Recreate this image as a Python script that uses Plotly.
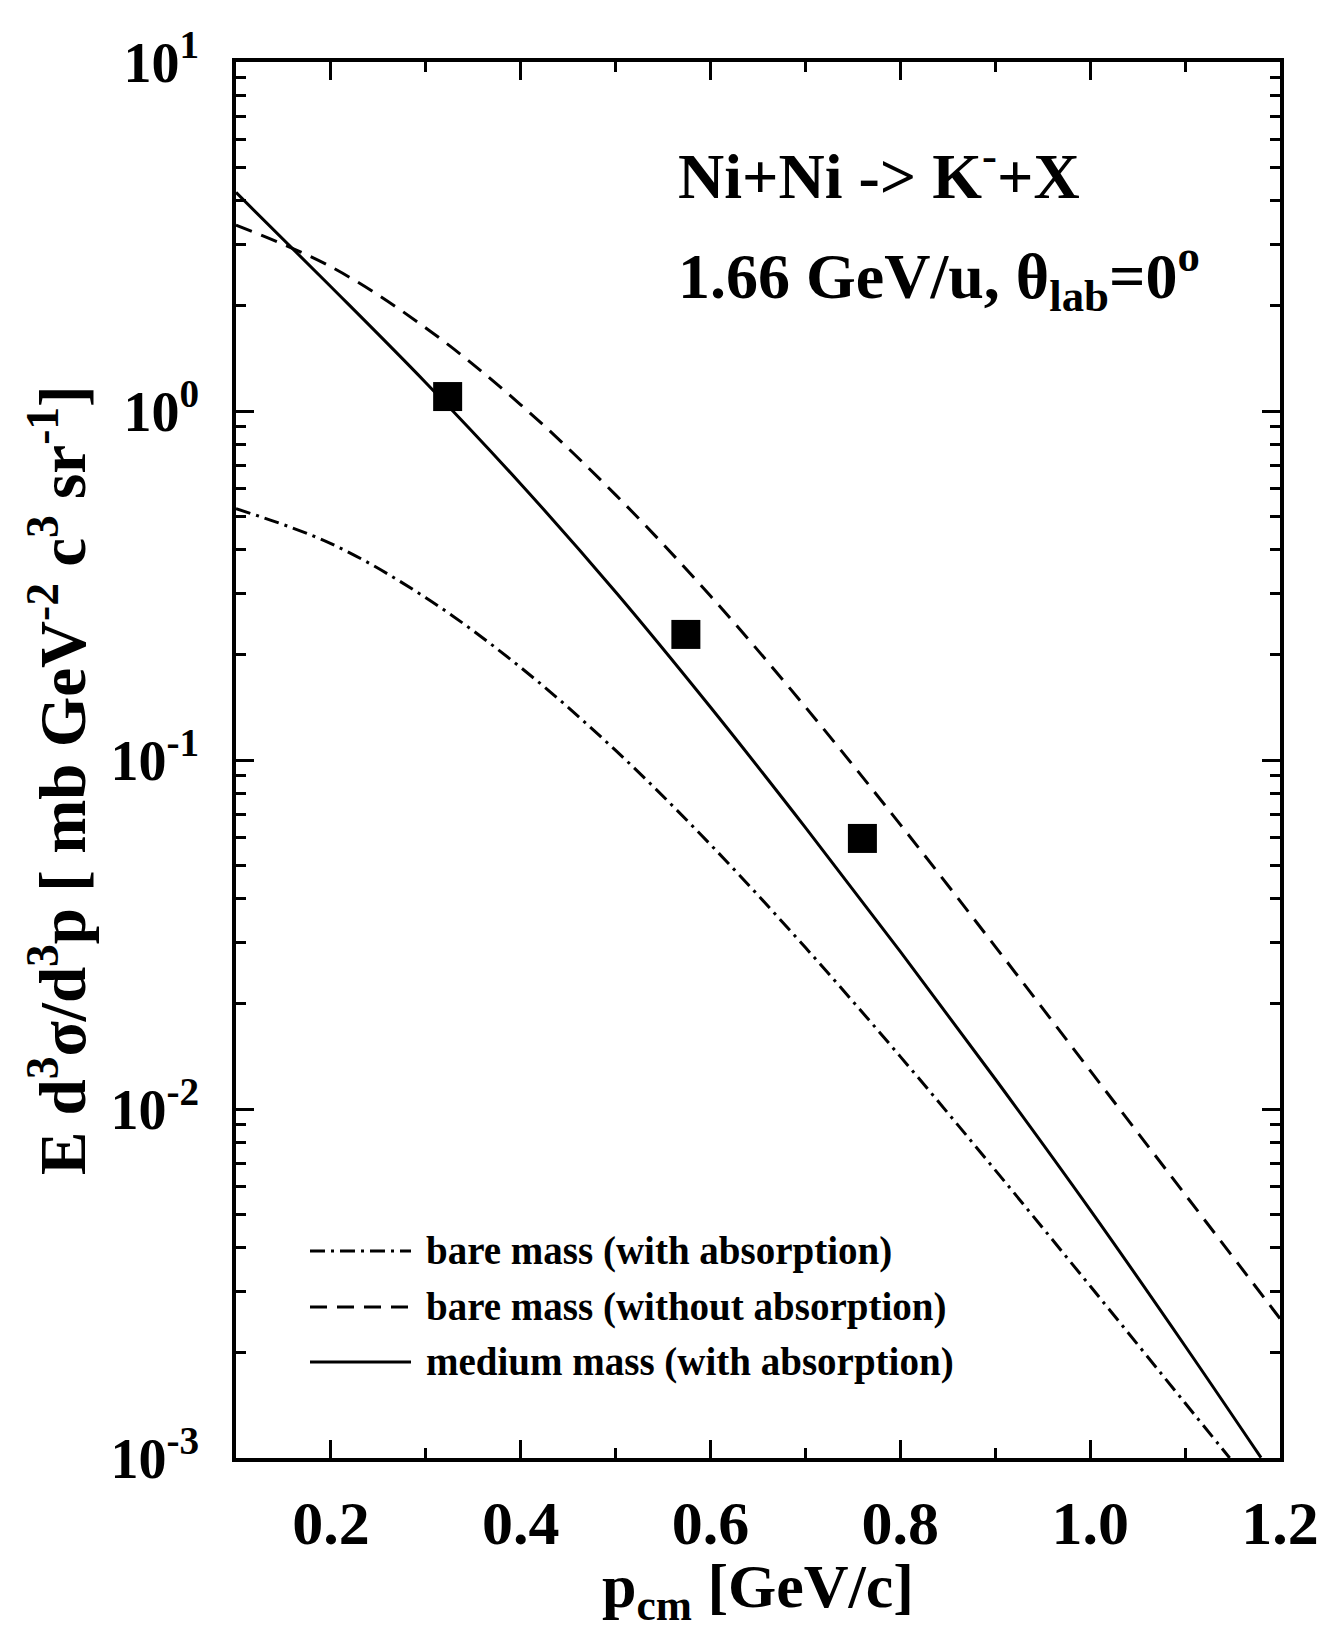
import plotly.graph_objects as go

# ---- data ----
solid_x = [0.10, 0.20, 0.30, 0.40, 0.50, 0.60, 0.70, 0.80, 0.90, 1.00, 1.10, 1.18]
solid_y = [4.23, 2.27, 1.205, 0.618, 0.303, 0.1416, 0.0640, 0.02825, 0.01219, 0.00514, 0.002094, 0.001002]

dash_x = [0.10, 0.20, 0.30, 0.40, 0.50, 0.60, 0.70, 0.80, 0.90, 1.00, 1.10, 1.20]
dash_y = [3.41, 2.59, 1.73, 1.042, 0.575, 0.295, 0.1419, 0.0653, 0.0292, 0.01288, 0.00569, 0.00251]

dd_x = [0.10, 0.20, 0.30, 0.40, 0.50, 0.60, 0.70, 0.80, 0.90, 1.00, 1.10, 1.147]
dd_y = [0.525, 0.417, 0.2917, 0.1841, 0.1065, 0.0572, 0.0290, 0.01413, 0.00668, 0.00311, 0.001437, 0.001]

data_x = [0.323, 0.574, 0.760]
data_y = [1.10, 0.229, 0.0596]

x_tickvals = [0.2, 0.4, 0.6, 0.8, 1.0, 1.2]
y_tickvals = [0.001, 0.01, 0.1, 1, 10]
y_ticktext = ["10<sup>-3</sup>", "10<sup>-2</sup>", "10<sup>-1</sup>", "10<sup>0</sup>", "10<sup>1</sup>"]

legend_labels = ["bare mass (with absorption)", "bare mass (without absorption)", "medium mass (with absorption)"]
legend_dashes = ["15px,6px,3px,6px", "17px,10px", "solid"]

FONT = "Liberation Serif"

fig = go.Figure()
fig.add_trace(go.Scatter(x=dd_x, y=dd_y, mode="lines", line=dict(color="black", width=3, dash=legend_dashes[0], shape="spline"), showlegend=False))
fig.add_trace(go.Scatter(x=dash_x, y=dash_y, mode="lines", line=dict(color="black", width=3, dash=legend_dashes[1], shape="spline"), showlegend=False))
fig.add_trace(go.Scatter(x=solid_x, y=solid_y, mode="lines", line=dict(color="black", width=3, shape="spline"), showlegend=False))
fig.add_trace(go.Scatter(x=data_x, y=data_y, mode="markers", marker=dict(symbol="square", size=29, color="black"), showlegend=False))

axis_common = dict(showline=True, linewidth=3.5, linecolor="black", mirror="ticks", ticks="inside",
                   ticklen=18, tickwidth=3, tickcolor="black", showgrid=False, zeroline=False)

fig.update_xaxes(range=[0.1, 1.2], tickvals=x_tickvals, tickformat=".1f",
                 tickfont=dict(family=FONT, size=62, color="black", weight="bold"),
                 ticklabelstandoff=8,
                 minor=dict(dtick=0.1, tick0=0.1, ticks="inside", ticklen=10, tickwidth=3, tickcolor="black", showgrid=False),
                 **axis_common)
fig.update_yaxes(type="log", range=[-3, 1], tickmode="array", tickvals=y_tickvals, ticktext=y_ticktext,
                 tickfont=dict(family=FONT, size=56, color="black", weight="bold"),
                 ticklabelstandoff=22,
                 minor=dict(dtick="D1", ticks="inside", ticklen=10, tickwidth=3, tickcolor="black", showgrid=False),
                 **axis_common)

W, H = 1333, 1630
L, R, T, B = 236, 53, 62, 172
pw, ph = W - L - R, H - T - B

def px(xp):
    return (xp - L) / pw

def py(yp):
    return (H - B - yp) / ph

annotations = [
    dict(text="Ni+Ni -> K<sup>-</sup>+X", x=px(676), y=py(172), xanchor="left", yanchor="middle"),
    dict(text="1.66 GeV/u, θ<sub>lab</sub>=0<sup>o</sup>", x=px(676), y=py(276), xanchor="left", yanchor="middle"),
]
anns = []
for a in annotations:
    a.update(xref="paper", yref="paper", showarrow=False,
             font=dict(family=FONT, size=64, color="black", weight="bold"))
    anns.append(a)

# axis titles
anns.append(dict(text="p<sub>cm</sub> [GeV/c]", x=0.5, y=py(1590), xref="paper", yref="paper",
                 xanchor="center", yanchor="middle", showarrow=False,
                 font=dict(family=FONT, size=62, color="black", weight="bold")))
anns.append(dict(text="E d<sup>3</sup>σ/d<sup>3</sup>p [ mb GeV<sup>-2</sup> c<sup>3</sup> sr<sup>-1</sup>]",
                 x=px(58), y=py(780), xref="paper", yref="paper", textangle=-90,
                 xanchor="center", yanchor="middle", showarrow=False,
                 font=dict(family=FONT, size=65, color="black", weight="bold")))

# legend
shapes = []
leg_rows = [1251, 1307, 1362]
for lab, dsh, yy in zip(legend_labels, legend_dashes, leg_rows):
    shapes.append(dict(type="line", xref="paper", yref="paper", x0=px(310), x1=px(411), y0=py(yy), y1=py(yy),
                       line=dict(color="black", width=3, dash=dsh)))
    anns.append(dict(text=lab, x=px(424), y=py(yy), xref="paper", yref="paper", xanchor="left", yanchor="middle",
                     showarrow=False, font=dict(family=FONT, size=39, color="black", weight="bold")))

fig.update_layout(width=W, height=H, margin=dict(l=L, r=R, t=T, b=B),
                  paper_bgcolor="white", plot_bgcolor="white",
                  annotations=anns, shapes=shapes, showlegend=False)

fig.write_html("out.html")
